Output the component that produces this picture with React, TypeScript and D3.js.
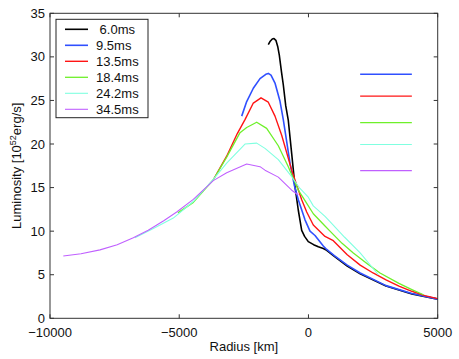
import React from 'react';
import * as d3 from 'd3';

// luminosity profiles, [radius km, 10^52 erg/s]
const t06: [number, number][] = [[-1554, 31.4], [-1480, 31.8], [-1400, 32.05], [-1333, 32.1], [-1260, 31.9], [-1190, 31.2], [-1128, 30.2], [-1040, 28.2], [-974, 26.8], [-880, 24.4], [-780, 22.7], [-649, 18.9], [-521, 15.1], [-393, 12.4], [-262, 10.1], [-150, 9.4], [-7, 8.8], [200, 8.45], [381, 8.2], [574, 8.0], [705, 7.8], [1000, 7.1], [1500, 6.0], [2000, 5.1], [3000, 3.7], [4000, 2.8], [5000, 2.2]];
const t95: [number, number][] = [[-2583, 23.2], [-2400, 24.8], [-2134, 26.4], [-1875, 27.5], [-1650, 28.0], [-1554, 28.1], [-1450, 27.9], [-1295, 27.0], [-1101, 24.9], [-974, 22.8], [-714, 17.8], [-550, 15.3], [-393, 13.6], [-134, 11.3], [59, 10.0], [253, 9.5], [574, 8.3], [705, 7.9], [1000, 7.2], [1500, 6.1], [2000, 5.2], [3000, 3.75], [4000, 2.85], [5000, 2.2]];
const t135: [number, number][] = [[-3682, 15.9], [-3164, 18.6], [-2753, 21.2], [-2456, 22.8], [-2134, 24.7], [-1836, 25.3], [-1554, 24.8], [-1295, 23.2], [-1036, 21.0], [-649, 17.0], [-455, 15.3], [-262, 13.6], [-68, 12.2], [187, 10.7], [640, 9.4], [961, 8.9], [1500, 7.3], [2000, 6.1], [2500, 5.2], [3000, 4.4], [3500, 3.7], [4000, 3.1], [4500, 2.6], [5000, 2.25]];
const t184: [number, number][] = [[-5050, 12.1], [-4455, 13.3], [-3682, 15.9], [-3164, 18.5], [-2649, 21.3], [-2390, 21.9], [-2003, 22.5], [-1617, 21.8], [-1167, 19.8], [-780, 17.4], [-393, 14.7], [-134, 13.5], [187, 12.0], [640, 10.6], [833, 10.0], [1300, 8.6], [1735, 7.5], [2300, 6.2], [2768, 5.2], [3500, 4.0], [4000, 3.3], [4450, 2.7]];
const t242: [number, number][] = [[-6711, 9.25], [-6000, 10.3], [-5230, 11.5], [-4455, 13.4], [-3682, 15.95], [-3164, 17.8], [-2456, 20.0], [-2003, 20.1], [-1682, 19.5], [-1167, 18.2], [-649, 16.25], [-328, 14.9], [-7, 13.9], [187, 12.9], [640, 11.7], [833, 11.1], [1400, 9.3], [2000, 7.5], [2703, 5.0]];
const t345: [number, number][] = [[-9485, 7.15], [-8800, 7.4], [-8066, 7.85], [-7400, 8.45], [-6776, 9.25], [-6200, 10.1], [-5600, 11.2], [-5098, 12.2], [-4455, 13.65], [-3682, 15.8], [-3164, 16.7], [-2390, 17.7], [-1875, 17.4], [-1682, 17.0], [-1167, 16.2], [-649, 14.7], [-393, 14.15]];

const labels = [' 6.0ms', '9.5ms', '13.5ms', '18.4ms', '24.2ms', '34.5ms'];
const colors = ['#000000', '#3050ff', '#ff1414', '#6ef02a', '#80ffe0', '#c060ff'];
const widths = [1.6, 1.6, 1.4, 1.3, 1.1, 1.1];
const series = [t06, t95, t135, t184, t242, t345];

// short separate segments at the right (2000..4000 km)
const markX = [2000, 4000];
const markY = [28.0, 25.5, 22.45, 19.95, 16.95];

const xTicks = [-10000, -5000, 0, 5000];
const yTicks = [0, 5, 10, 15, 20, 25, 30, 35];

const W = 459, H = 359;
const left = 50, right = 437.7, top = 13.3, bottom = 318.3;
const font = 'Liberation Sans, Arial, sans-serif';
const axisColor = '#333';

const fmt = (v: number) => (v < 0 ? '\u2212' + Math.abs(v) : String(v));

const App = () => {
  const x = d3.scaleLinear().domain([-10000, 5000]).range([left, right]);
  const y = d3.scaleLinear().domain([0, 35]).range([bottom, top]);
  const line = d3.line<[number, number]>().x((d) => x(d[0])).y((d) => y(d[1]));

  const legX = 56, legY = 19.3, legW = 92, legH = 98.4;
  const rowY = (i: number) => 29.3 + i * 16;

  return (
    <svg width={W} height={H} style={{ position: 'absolute', left: 0, top: 0, background: '#fff' }}>
      <rect x={0} y={0} width={W} height={H} fill="#fff" />
      <defs>
        <clipPath id="plot">
          <rect x={left} y={top} width={right - left} height={bottom - top} />
        </clipPath>
      </defs>

      <g clipPath="url(#plot)">
        {series.map((s, i) => (
          <path key={i} d={line(s) || ''} fill="none" stroke={colors[i]} strokeWidth={widths[i]} strokeLinejoin="round" />
        ))}
        {markY.map((v, i) => (
          <path key={'m' + i} d={line(markX.map((m) => [m, v] as [number, number])) || ''} fill="none" stroke={colors[i + 1]} strokeWidth={widths[i + 1]} />
        ))}
      </g>

      {/* axes box */}
      <rect x={left} y={top} width={right - left} height={bottom - top} fill="none" stroke={axisColor} strokeWidth={1} />
      {xTicks.map((t) => (
        <g key={'x' + t}>
          <line x1={x(t)} x2={x(t)} y1={bottom} y2={bottom - 4} stroke={axisColor} />
          <line x1={x(t)} x2={x(t)} y1={top} y2={top + 4} stroke={axisColor} />
          <text x={x(t)} y={336.5} textAnchor="middle" fontFamily={font} fontSize={13} fill="#111">{fmt(t)}</text>
        </g>
      ))}
      {yTicks.map((t) => (
        <g key={'y' + t}>
          <line x1={left} x2={left + 4} y1={y(t)} y2={y(t)} stroke={axisColor} />
          <line x1={right} x2={right - 4} y1={y(t)} y2={y(t)} stroke={axisColor} />
          <text x={45} y={y(t) + 4.5} textAnchor="end" fontFamily={font} fontSize={13} fill="#111">{t}</text>
        </g>
      ))}

      <text x={(left + right) / 2} y={351} textAnchor="middle" fontFamily={font} fontSize={13} fill="#111">Radius [km]</text>
      <text transform={`translate(21, ${(top + bottom) / 2}) rotate(-90)`} textAnchor="middle" fontFamily={font} fontSize={13} fill="#111">
        Luminosity [10<tspan dy={-5} fontSize={9}>52</tspan><tspan dy={5}>erg/s]</tspan>
      </text>

      {/* legend */}
      <rect x={legX} y={legY} width={legW} height={legH} fill="#fff" stroke="#222" strokeWidth={1} />
      {labels.map((l, i) => (
        <g key={l}>
          <line x1={65} x2={88} y1={rowY(i)} y2={rowY(i)} stroke={colors[i]} strokeWidth={widths[i]} />
          <text x={96} y={rowY(i) + 4.5} fontFamily={font} fontSize={13} fill="#111" style={{ whiteSpace: 'pre' }}>{l}</text>
        </g>
      ))}
    </svg>
  );
};

export default App;
